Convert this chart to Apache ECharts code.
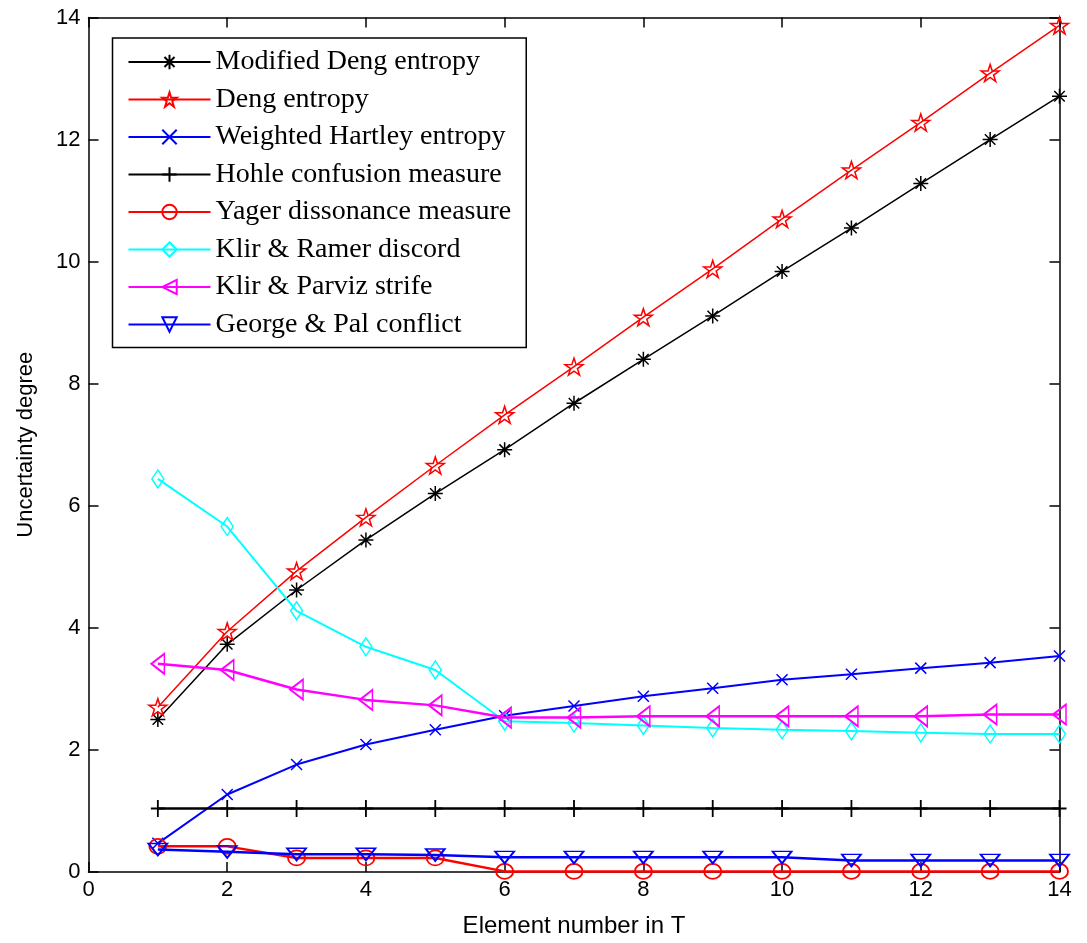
<!DOCTYPE html>
<html>
<head>
<meta charset="utf-8">
<script src="https://cdn.jsdelivr.net/npm/echarts@6/dist/echarts.min.js"></script>
<style>
  html, body { margin: 0; padding: 0; background: #fff; }
  #chart { width: 1087px; height: 943px; }
</style>
</head>
<body>
<div id="chart"></div>
<script>
// ---- data ----
const elementNumbers = [1, 2, 3, 4, 5, 6, 7, 8, 9, 10, 11, 12, 13, 14];
const xTicks = [0, 2, 4, 6, 8, 10, 12, 14];
const yTicks = [0, 2, 4, 6, 8, 10, 12, 14];

const modifiedDeng = [2.50, 3.73, 4.62, 5.44, 6.20, 6.92, 7.68, 8.40, 9.11, 9.84, 10.55, 11.28, 12.00, 12.71];
const dengEntropy = [2.70, 3.94, 4.93, 5.81, 6.66, 7.49, 8.28, 9.09, 9.88, 10.70, 11.50, 12.28, 13.09, 13.87];
const weightedHartley = [0.47, 1.27, 1.76, 2.09, 2.33, 2.56, 2.72, 2.88, 3.01, 3.15, 3.24, 3.34, 3.43, 3.54];
const hohleConfusion = [1.04, 1.04, 1.04, 1.04, 1.04, 1.04, 1.04, 1.04, 1.04, 1.04, 1.04, 1.04, 1.04, 1.04];
const yagerDissonance = [0.42, 0.42, 0.23, 0.23, 0.23, 0.01, 0.01, 0.01, 0.01, 0.01, 0.01, 0.01, 0.01, 0.01];
const klirRamerDiscord = [6.44, 5.66, 4.28, 3.69, 3.31, 2.47, 2.44, 2.40, 2.36, 2.33, 2.31, 2.28, 2.26, 2.26];
const klirParvizStrife = [3.41, 3.31, 2.99, 2.82, 2.73, 2.53, 2.53, 2.55, 2.55, 2.55, 2.55, 2.55, 2.58, 2.58];
const georgePalConflict = [0.37, 0.33, 0.29, 0.29, 0.28, 0.24, 0.24, 0.24, 0.24, 0.24, 0.19, 0.19, 0.19, 0.19];

const seriesNames = [
  'Modified Deng entropy',
  'Deng entropy',
  'Weighted Hartley entropy',
  'Hohle confusion measure',
  'Yager dissonance measure',
  'Klir & Ramer discord',
  'Klir & Parviz strife',
  'George & Pal conflict'
];
const seriesValues = [modifiedDeng, dengEntropy, weightedHartley, hohleConfusion,
  yagerDissonance, klirRamerDiscord, klirParvizStrife, georgePalConflict];

// ---- styles ----
const SYM = {
  asterisk: 'path://M0,-1L0,1M-1,0L1,0M-0.7,-0.7L0.7,0.7M-0.7,0.7L0.7,-0.7',
  star: 'path://M0,-1L0.2245,-0.309L0.951,-0.309L0.3633,0.118L0.588,0.809L0,0.382L-0.588,0.809L-0.3633,0.118L-0.951,-0.309L-0.2245,-0.309Z',
  cross: 'path://M-1,-1L1,1M-1,1L1,-1',
  plus: 'path://M0,-1L0,1M-1,0L1,0',
  circle: 'circle',
  diamond: 'path://M0,-1L1,0L0,1L-1,0Z',
  triLeft: 'path://M1,-1L-1,0L1,1Z',
  triDown: 'path://M-1,-1L1,-1L0,1Z'
};
const styles = [
  { color: '#000000', symbol: SYM.asterisk, size: 15, lw: 1.5, bw: 1.5 },
  { color: '#ff0000', symbol: SYM.star, size: [18, 17], lw: 1.5, bw: 1.5 },
  { color: '#0000ff', symbol: SYM.cross, size: 11, lw: 2, bw: 1.5 },
  { color: '#000000', symbol: SYM.plus, size: [14, 17], lw: 2.5, bw: 2 },
  { color: '#ff0000', symbol: SYM.circle, size: [17, 15], lw: 2.5, bw: 1.8 },
  { color: '#00ffff', symbol: SYM.diamond, size: [12, 18], lw: 2, bw: 1.5 },
  { color: '#ff00ff', symbol: SYM.triLeft, size: [13, 20], lw: 2.5, bw: 1.8 },
  { color: '#0000ff', symbol: SYM.triDown, size: [19, 12], lw: 2.5, bw: 1.8 }
];

const series = seriesNames.map((name, i) => ({
  name: name,
  type: 'line',
  clip: false,
  data: elementNumbers.map((x, j) => [x, seriesValues[i][j]]),
  symbol: styles[i].symbol,
  symbolSize: styles[i].size,
  showAllSymbol: true,
  lineStyle: { color: styles[i].color, width: styles[i].lw },
  itemStyle: { color: 'transparent', borderColor: styles[i].color, borderWidth: styles[i].bw },
  emphasis: { disabled: true },
  z: 2 + i
}));

const axisCommon = {
  type: 'value', min: 0, max: 14, interval: 2,
  axisLine: { show: true, onZero: false, lineStyle: { color: '#000', width: 1.5 } },
  axisTick: { show: true, inside: true, length: 10, lineStyle: { color: '#000', width: 1.5 } },
  splitLine: { show: false }
};
const labelStyle = { color: '#000', fontSize: 22, fontFamily: 'Liberation Sans, Arial, sans-serif' };

const option = {
  animation: false,
  backgroundColor: '#ffffff',
  grid: { left: 88.5, right: 27.5, top: 17.5, bottom: 71, containLabel: false },
  legend: {
    orient: 'vertical',
    left: 112.5, top: 38,
    data: seriesNames,
    backgroundColor: '#ffffff',
    borderColor: '#000', borderWidth: 1.5,
    padding: [9, 15, 8, 15],
    itemWidth: 82, itemHeight: 18, itemGap: 7.5,
    selectedMode: false,
    textStyle: { fontSize: 28, lineHeight: 30, color: '#000', fontFamily: 'Liberation Serif, Times New Roman, serif' }
  },
  xAxis: [
    Object.assign({}, axisCommon, {
      position: 'bottom',
      axisLabel: Object.assign({ margin: 7 }, labelStyle),
      name: 'Element number in T', nameLocation: 'middle', nameGap: 42,
      nameTextStyle: { color: '#000', fontSize: 24, fontFamily: 'Liberation Sans, Arial, sans-serif' }
    }),
    Object.assign({}, axisCommon, { position: 'top', axisLabel: { show: false } })
  ],
  yAxis: [
    Object.assign({}, axisCommon, {
      position: 'left',
      axisLabel: Object.assign({ margin: 8 }, labelStyle),
      name: 'Uncertainty degree', nameLocation: 'middle', nameGap: 52, nameRotate: 90,
      nameTextStyle: { color: '#000', fontSize: 22, fontFamily: 'Liberation Sans, Arial, sans-serif' }
    }),
    Object.assign({}, axisCommon, { position: 'right', axisLabel: { show: false } })
  ],
  series: series
};

const chart = echarts.init(document.getElementById('chart'), null, { renderer: 'canvas' });
chart.setOption(option);
</script>
</body>
</html>
